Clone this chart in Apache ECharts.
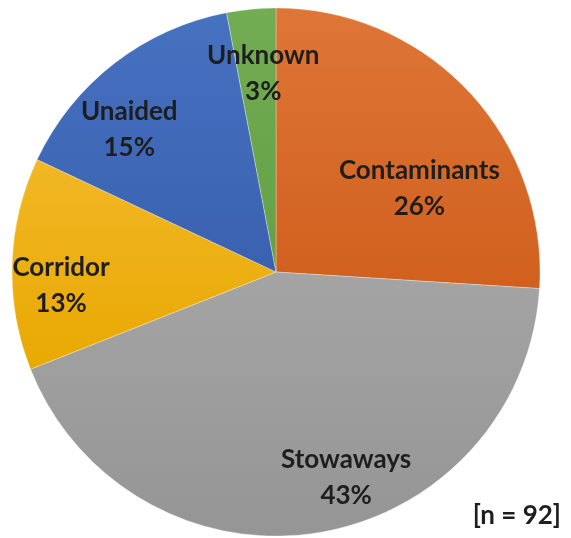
<!DOCTYPE html>
<html>
<head>
<meta charset="utf-8">
<script src="https://cdn.jsdelivr.net/npm/echarts@6/dist/echarts.min.js"></script>
<style>
html,body{margin:0;padding:0;background:#fff;}
#chart{width:571px;height:538px;}
</style>
</head>
<body>
<div id="chart"></div>
<script>
const categories = ['Contaminants', 'Stowaways', 'Corridor', 'Unaided', 'Unknown'];
const percentages = [26, 43, 13, 15, 3];
const sampleSize = 92;

const sliceColors = [
  ['#DE7637', '#D1601E'],
  ['#A4A4A4', '#959595'],
  ['#F1B725', '#E9A902'],
  ['#4772C0', '#3961B0'],
  ['#72AC53', '#64A045']
];
// label nudges from the default inside position (style only)
const labelNudges = [[45, 9], [49, 72], [-80, 18], [-64, -36], [0, -64]];

const chart = echarts.init(document.getElementById('chart'));
chart.setOption({
  backgroundColor: '#ffffff',
  animation: false,
  title: {
    text: '[n = ' + sampleSize + ']',
    right: 5,
    bottom: 4,
    textStyle: { fontFamily: 'Lato', fontWeight: 'bold', fontSize: 26, color: '#1e1e1e' }
  },
  series: [{
    type: 'pie',
    center: [276, 272],
    radius: 264,
    startAngle: 90,
    clockwise: true,
    avoidLabelOverlap: false,
    data: categories.map((c, i) => ({
      name: c,
      value: percentages[i],
      itemStyle: {
        color: new echarts.graphic.LinearGradient(0, 0, 0, 1, [
          { offset: 0, color: sliceColors[i][0] },
          { offset: 1, color: sliceColors[i][1] }
        ])
      }
    })),
    itemStyle: { borderColor: 'rgba(255,255,255,0.5)', borderWidth: 0.6 },
    label: {
      position: 'inside',
      formatter: '{b}\n{c}%',
      fontFamily: 'Lato',
      fontWeight: 'bold',
      fontSize: 26,
      lineHeight: 36,
      color: '#1e1e1e',
      align: 'center'
    },
    labelLine: { show: false },
    labelLayout: function (params) {
      const n = labelNudges[params.dataIndex];
      return { dx: n[0], dy: n[1] };
    },
    emphasis: { disabled: true }
  }]
});
</script>
</body>
</html>
